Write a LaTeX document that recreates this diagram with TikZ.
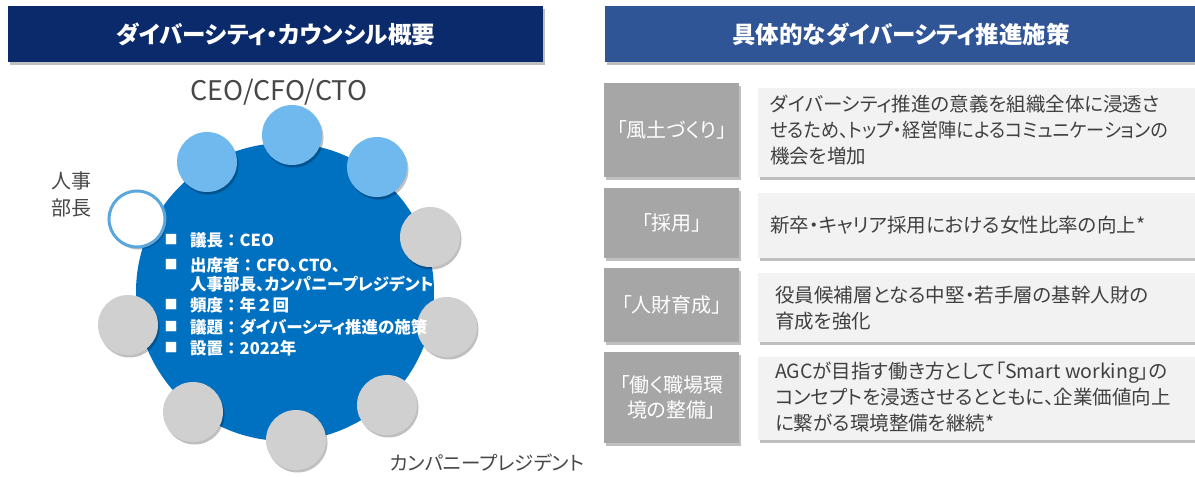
\documentclass[tikz,border=0pt]{standalone}
\usepackage{fontspec}
\setmainfont{Noto Sans CJK JP}[RawFeature=+palt]
\newfontfamily\jpfull{Noto Sans CJK JP}
\usetikzlibrary{shadows}
\definecolor{navy}{HTML}{0B2A6B}
\definecolor{steel}{HTML}{2F5597}
\definecolor{bigblue}{HTML}{0070C0}
\definecolor{lightblue}{HTML}{6FB9EF}
\definecolor{ringgray}{HTML}{D0D0D0}
\definecolor{ringline}{HTML}{5AA7DE}
\definecolor{lblgray}{HTML}{A6A6A6}
\definecolor{boxlight}{HTML}{F2F2F2}
\definecolor{txtgray}{HTML}{404040}
\definecolor{capgray}{HTML}{474747}
\newcommand{\fc}{{\jpfull\bfseries ：}}
\begin{document}
\begin{tikzpicture}[x=1pt,y=-1pt,
  shd/.style={drop shadow={shadow xshift=1.5pt,shadow yshift=-2.5pt,opacity=.25,fill=black}},
  hdrbox/.style={shd,rectangle,inner sep=0,anchor=north west,text=white,font=\fontsize{23.5}{27}\selectfont\bfseries},
  member/.style={shd,circle,inner sep=0,minimum size=60},
  bigc/.style={circle,inner sep=0,fill=bigblue,minimum size=298},
  bul/.style={anchor=center,text=white,inner sep=0,font=\fontsize{13}{13}\selectfont},
  itm/.style={anchor=west,text=white,inner sep=0,font=\fontsize{16.5}{19}\selectfont\bfseries},
  captxt/.style={text=capgray,inner sep=0,align=center},
  lbl/.style={shd,rectangle,inner sep=0,anchor=north west,fill=lblgray,minimum width=135,text=white,align=center,font=\fontsize{20}{25}\selectfont},
  tbox/.style={shd,rectangle,inner sep=0,anchor=north west,fill=boxlight,minimum width=440},
  txt/.style={anchor=west,inner sep=0,text=txtgray,align=left,font=\fontsize{19.5}{26}\selectfont}
]
\useasboundingbox (0,0) rectangle (1195,478);
% headers
\node[hdrbox,fill=navy,minimum width=535,minimum height=56] (lh) at (8,6) {ダイバーシティ・カウンシル概要};
\node[hdrbox,fill=steel,minimum width=592,minimum height=56] (rh) at (605,6) {具体的なダイバーシティ推進施策};
% council
\node[bigc] (big) at (285,292) {};
\node[member,fill=lightblue] (m1) at (207,162) {};
\node[member,fill=lightblue] (m2) at (292,135) {};
\node[member,fill=lightblue] (m3) at (377,167) {};
\node[member,fill=ringgray] (m4) at (430,237) {};
\node[member,fill=ringgray] (m5) at (447,327) {};
\node[member,fill=ringgray] (m6) at (387,405) {};
\node[member,fill=ringgray] (m7) at (296,440) {};
\node[member,fill=ringgray] (m8) at (193,412) {};
\node[member,fill=ringgray] (m9) at (128,325) {};
\node[member,fill=white,draw=ringline,line width=3pt,minimum size=56] (m10) at (137,219) {};
\node[captxt,font=\fontsize{27}{30}\selectfont] (ceo) at (279,92) {CEO/CFO/CTO};
\node[captxt,font=\fontsize{20}{27}\selectfont] (hr) at (71,194) {人事\\部長};
\node[captxt,font=\fontsize{19.5}{24}\selectfont] (pres) at (487,463) {カンパニープレジデント};
\node[bul] (b1) at (171,240) {■};
\node[itm] (i1) at (190,240) {議長\fc CEO};
\node[bul] (b2) at (171,265) {■};
\node[itm] (i2) at (190,265) {出席者\fc CFO、CTO、};
\node[itm] (i2b) at (190,284) {人事部長、カンパニープレジデント};
\node[bul] (b3) at (171,305) {■};
\node[itm] (i3) at (190,305) {頻度\fc 年{\jpfull\bfseries ２}回};
\node[bul] (b4) at (171,327) {■};
\node[itm] (i4) at (190,327) {議題\fc ダイバーシティ推進の施策};
\node[bul] (b5) at (171,348) {■};
\node[itm] (i5) at (190,348) {設置\fc 2022年};
% measures
\node[lbl,minimum height=94] (l1) at (604,83) {「風土づくり」};
\node[tbox,minimum height=89] (t1) at (758,88) {};
\node[txt] (x1) at (770,130) {ダイバーシティ推進の意義を組織全体に浸透さ\\\scalebox{0.93}[1]{せるため、トップ・経営陣によるコミュニケーションの}\\機会を増加};
\node[lbl,minimum height=70] (l2) at (604,188) {「採用」};
\node[tbox,minimum height=65] (t2) at (758,193) {};
\node[txt] (x2) at (770,225) {新卒・キャリア採用における女性比率の向上*};
\node[lbl,minimum height=74] (l3) at (604,268) {「人財育成」};
\node[tbox,minimum height=69] (t3) at (758,273) {};
\node[txt] (x3) at (775,308) {役員候補層となる中堅・若手層の基幹人財の\\育成を強化};
\node[lbl,minimum height=91] (l4) at (604,352) {「働く職場環\\境の整備」};
\node[tbox,minimum height=83] (t4) at (758,357) {};
\node[txt] (x4) at (775,397) {AGCが目指す働き方として「Smart working」の\\コンセプトを浸透させるとともに、企業価値向上\\に繋がる環境整備を継続*};
\end{tikzpicture}
\end{document}
